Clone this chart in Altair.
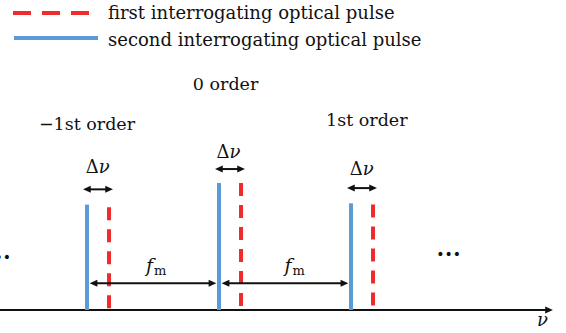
import altair as alt
import pandas as pd

# ---------------- data (frequency in units of f_m, amplitude relative to 0 order) -------------
orders = [-1, 0, 1]
order_names = ["\u22121st order", "0 order", "1st order"]
fm = 1.0
delta_nu = 0.167
amp_second = [0.83, 1.00, 0.84]   # second interrogating pulse (solid blue)
amp_first = [0.81, 1.00, 0.83]    # first interrogating pulse (dashed red)
series_names = ["first interrogating optical pulse", "second interrogating optical pulse"]

# annotation anchors (same frequency / amplitude units)
order_label_x = [-1.00, 0.05, 1.12]
order_label_y = [1.46, 1.77, 1.49]
dnu_label_x = [-0.91, 0.08, 1.09]
dnu_label_y = [1.12, 1.24, 1.10]
dnu_arrow_y = [0.95, 1.11, 0.96]
fm_arrow_y = 0.21
fm_label_x = [-0.50, 0.55]
fm_label_y = [0.35, 0.35]
fm_sub_y = [0.31, 0.31]
dots_x = [-1.67, 1.74]
dots_y = [0.41, 0.43]
freq_axis = [-1.66, 2.53]
axis_label_x = [2.45]
axis_label_y = [-0.09]

# ---------------- styles ----------------
BLUE = "#5B9BD5"
RED = "#EF2B2B"
INK = "#111111"
FONT = "DejaVu Serif"
RIGHT_HEAD = "M0,0 L-1,-0.45 L-1,0.45 Z"
LEFT_HEAD = "M0,0 L1,-0.45 L1,0.45 Z"
HEAD_SIZE = 240
TIP_GAP = 0.03
INSET = 0.045

xs = alt.Scale(domain=[-1.659, 2.629], nice=False, zero=False)
ys = alt.Scale(domain=[-0.181, 2.441], nice=False, zero=False)


def X(f):
    return alt.X(f, type="quantitative", scale=xs, axis=None)


def Y(f):
    return alt.Y(f, type="quantitative", scale=ys, axis=None)


layers = []

# frequency axis
axis_df = pd.DataFrame({"x": [freq_axis[0]], "x2": [freq_axis[1] - INSET], "tip": [freq_axis[1]], "y": [0.0]})
layers.append(alt.Chart(axis_df).mark_rule(color=INK, strokeWidth=2).encode(x=X("x"), x2="x2", y=Y("y")))
layers.append(alt.Chart(axis_df).mark_point(shape=RIGHT_HEAD, filled=True, size=HEAD_SIZE, color=INK,
                                            opacity=1, strokeWidth=0).encode(x=X("tip"), y=Y("y")))

# spectral lines
lines_df = pd.DataFrame({
    "nu2": orders,
    "amp2": amp_second,
    "nu1": [o + delta_nu for o in orders],
    "amp1": amp_first,
    "base": [0.0] * len(orders),
})
layers.append(alt.Chart(lines_df).mark_rule(color=BLUE, strokeWidth=4).encode(x=X("nu2"), y=Y("amp2"), y2="base"))
layers.append(alt.Chart(lines_df).mark_rule(color=RED, strokeWidth=4, strokeDash=[13, 9]).encode(
    x=X("nu1"), y=Y("amp1"), y2="base"))

# delta-nu arrows
dnu_df = pd.DataFrame({
    "left": [o - TIP_GAP for o in orders],
    "right": [o + delta_nu + TIP_GAP for o in orders],
    "y": dnu_arrow_y,
})
dnu_df["l_in"] = dnu_df["left"] + INSET
dnu_df["r_in"] = dnu_df["right"] - INSET
# fm arrows
fm_df = pd.DataFrame({
    "left": [o + 0.02 for o in orders[:-1]],
    "right": [o + fm - 0.02 for o in orders[:-1]],
    "y": [fm_arrow_y] * 2,
})
fm_df["l_in"] = fm_df["left"] + INSET
fm_df["r_in"] = fm_df["right"] - INSET
arrows_df = pd.concat([dnu_df, fm_df], ignore_index=True)
layers.append(alt.Chart(arrows_df).mark_rule(color=INK, strokeWidth=2).encode(x=X("l_in"), x2="r_in", y=Y("y")))
layers.append(alt.Chart(arrows_df).mark_point(shape=LEFT_HEAD, filled=True, size=HEAD_SIZE, color=INK,
                                              opacity=1, strokeWidth=0).encode(x=X("left"), y=Y("y")))
layers.append(alt.Chart(arrows_df).mark_point(shape=RIGHT_HEAD, filled=True, size=HEAD_SIZE, color=INK,
                                              opacity=1, strokeWidth=0).encode(x=X("right"), y=Y("y")))

# order labels
ol_df = pd.DataFrame({"x": order_label_x, "y": order_label_y, "t": order_names})
layers.append(alt.Chart(ol_df).mark_text(font=FONT, fontSize=17.5, color=INK, baseline="middle",
                                         align="center").encode(x=X("x"), y=Y("y"), text="t:N"))

# delta nu labels
dl_df = pd.DataFrame({"x": dnu_label_x, "y": dnu_label_y, "d": ["\u0394"] * 3, "n": ["\u03bd"] * 3})
layers.append(alt.Chart(dl_df).mark_text(font=FONT, fontSize=18, color=INK, baseline="middle",
                                         align="right").encode(x=X("x"), y=Y("y"), text="d:N"))
layers.append(alt.Chart(dl_df).mark_text(font=FONT, fontSize=18, fontStyle="italic",
                                         color=INK, baseline="middle", align="left").encode(
    x=X("x"), y=Y("y"), text="n:N"))

# f_m labels
fl_df = pd.DataFrame({"x": fm_label_x, "y": fm_label_y, "ys": fm_sub_y, "f": ["f"] * 2, "m": ["m"] * 2})
layers.append(alt.Chart(fl_df).mark_text(font=FONT, fontSize=19, fontStyle="italic", color=INK,
                                         baseline="middle", align="right").encode(x=X("x"), y=Y("y"), text="f:N"))
layers.append(alt.Chart(fl_df).mark_text(font=FONT, fontSize=13, color=INK, baseline="middle",
                                         align="left", dx=1).encode(x=X("x"), y=Y("ys"), text="m:N"))

# ellipses
dots_df = pd.DataFrame({"x": dots_x, "y": dots_y, "t": ["\u2022\u2022\u2022"] * 2})
layers.append(alt.Chart(dots_df).mark_text(font="DejaVu Sans", fontSize=14, color=INK, baseline="middle",
                                           align="center").encode(x=X("x"), y=Y("y"), text="t:N"))

# axis label nu
al_df = pd.DataFrame({"x": axis_label_x, "y": axis_label_y, "t": ["\u03bd"]})
layers.append(alt.Chart(al_df).mark_text(font=FONT, fontSize=18, fontStyle="italic",
                                         color=INK, baseline="middle", align="center").encode(
    x=X("x"), y=Y("y"), text="t:N"))

# legend (manual)
leg_df = pd.DataFrame({"t": series_names})
layers.append(alt.Chart(leg_df).mark_rule(color=RED, strokeWidth=4, strokeDash=[18, 11]).encode(
    x=alt.value(13), x2=alt.value(89), y=alt.value(13)))
layers.append(alt.Chart(leg_df).mark_rule(color=BLUE, strokeWidth=4).encode(
    x=alt.value(14), x2=alt.value(98), y=alt.value(38)))
layers.append(alt.Chart(leg_df.iloc[[0]]).mark_text(font=FONT, fontSize=18, color=INK, baseline="middle",
                                                    align="left").encode(
    x=alt.value(108), y=alt.value(14), text="t:N"))
layers.append(alt.Chart(leg_df.iloc[[1]]).mark_text(font=FONT, fontSize=18, color=INK, baseline="middle",
                                                    align="left").encode(
    x=alt.value(108), y=alt.value(41), text="t:N"))

chart = alt.layer(*layers).properties(
    width=566, height=333, padding=0, autosize=alt.AutoSizeParams(type="none"), background="white"
).configure_view(stroke=None)

chart.save("out.html", embed_options={"renderer": "svg", "actions": False})
